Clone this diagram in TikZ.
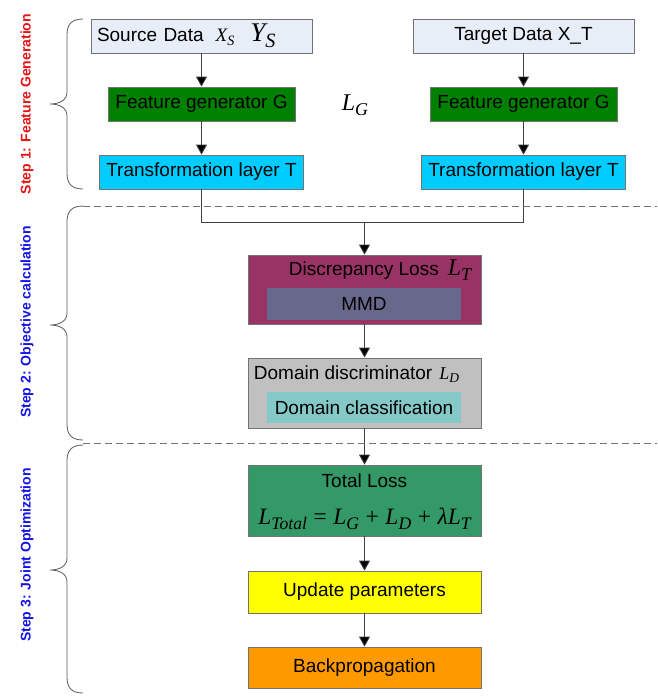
\documentclass[tikz,border=0pt]{standalone}
\usepackage{graphicx}
\usepackage{fontspec}
\setmainfont{Liberation Sans}
\newfontfamily\eqfont{Liberation Serif}
\usetikzlibrary{arrows.meta}

\definecolor{datafill}{RGB}{232,238,247}
\definecolor{gengreen}{RGB}{0,128,0}
\definecolor{transcyan}{RGB}{0,204,255}
\definecolor{discred}{RGB}{153,51,102}
\definecolor{mmdgray}{RGB}{104,104,140}
\definecolor{domgray}{RGB}{192,192,192}
\definecolor{clsteal}{RGB}{132,200,200}
\definecolor{totalgreen}{RGB}{51,153,102}
\definecolor{updyellow}{RGB}{255,255,0}
\definecolor{bporange}{RGB}{255,153,0}
\definecolor{stepred}{RGB}{230,20,20}
\definecolor{stepblue}{RGB}{20,20,230}

\newcommand{\eqv}[2]{{\eqfont\itshape #1\raisebox{-0.45ex}{\scalebox{0.75}{#2}}}}

\begin{document}
\begin{tikzpicture}[x=1pt, y=-1pt, font=\fontsize{19}{22}\selectfont,
    box/.style={draw=black!55, line width=0.8pt, inner sep=0pt},
    inbox/.style={inner sep=0pt, minimum width=194pt},
    link/.style={draw=black!75, line width=0.8pt},
    arrow/.style={link, -{Triangle[length=10pt,width=11pt,fill=black]}},
    steplbl/.style={rotate=90, font=\fontsize{14}{16}\selectfont\bfseries},
    sep/.style={draw=black!55, line width=0.8pt, dash pattern=on 7pt off 4pt},
    brace/.style={draw=black!65, line width=0.8pt}]
    \useasboundingbox (0,0) rectangle (657,696);

    % step 1
    \node [box, fill=datafill, minimum width=221pt, minimum height=34pt,
        text width=209pt, align=left] (src) at (201.5,36)
        {Source Data\hspace{12pt}{\fontsize{19}{19}\selectfont\eqv{X}{S}}\hspace{16pt}{\fontsize{27}{27}\selectfont\eqv{Y}{S}}};
    \node [box, fill=datafill, minimum width=221pt, minimum height=34pt] (tgt) at (523.5,36) {Target Data X\_T};
    \node [box, fill=gengreen, minimum width=187pt, minimum height=34pt] (gens) at (201.5,104) {Feature generator G};
    \node [box, fill=gengreen, minimum width=187pt, minimum height=34pt] (gent) at (523.5,104) {Feature generator G};
    \node [box, fill=transcyan, minimum width=204pt, minimum height=34pt] (trs) at (201.5,172) {Transformation layer T};
    \node [box, fill=transcyan, minimum width=204pt, minimum height=34pt] (trt) at (523.5,172) {Transformation layer T};
    \node (lg) at (355,105) {\fontsize{24}{24}\selectfont\eqv{L}{G}};
    \draw [arrow] (src) -- (gens);
    \draw [arrow] (gens) -- (trs);
    \draw [arrow] (tgt) -- (gent);
    \draw [arrow] (gent) -- (trt);

    % step 2
    \node [box, fill=discred, minimum width=233pt, minimum height=69pt] (disc) at (364.5,289.5) {};
    \node (disclbl) at (380,270) {Discrepancy Loss\hspace{9pt}{\fontsize{24}{24}\selectfont\eqv{L}{T}}};
    \node [inbox, fill=mmdgray, minimum height=32pt] (mmd) at (364,304) {MMD};
    \node [box, fill=domgray, minimum width=233pt, minimum height=70pt] (dom) at (364.5,393) {};
    \node (domlbl) at (356.5,374) {Domain discriminator\hspace{7pt}{\fontsize{18}{18}\selectfont\eqv{L}{D}}};
    \node [inbox, fill=clsteal, minimum height=31pt] (cls) at (364,407.5) {Domain classification};
    \coordinate (join) at (364.5,222);
    \draw [link] (trs.south) |- (join);
    \draw [link] (trt.south) |- (join);
    \draw [arrow] (join) -- (disc);
    \draw [arrow] (disc) -- (dom);

    % step 3
    \node [box, fill=totalgreen, minimum width=233pt, minimum height=71pt] (total) at (364.5,500.5) {};
    \node (totallbl) at (364.5,481) {Total Loss};
    \node (formula) at (364.5,519) {\fontsize{23.5}{24}\selectfont\eqv{L}{Total} {\eqfont=} \eqv{L}{G} {\eqfont+} \eqv{L}{D} {\eqfont+} {\eqfont\itshape λ}\eqv{L}{T}};
    \node [box, fill=updyellow, minimum width=233pt, minimum height=42pt] (upd) at (364.5,592) {Update parameters};
    \node [box, fill=bporange, minimum width=233pt, minimum height=41pt] (bp) at (364.5,667.5) {Backpropagation};
    \draw [arrow] (dom) -- (total);
    \draw [arrow] (total) -- (upd);
    \draw [arrow] (upd) -- (bp);

    % separators and braces
    \draw [sep] (83,206) -- (657,206);
    \draw [sep] (83,443) -- (657,443);
    \draw [brace] (83,19) .. controls (71,19) and (67,25) .. (67,35) -- (67,92)
        .. controls (67,100) and (60,104) .. (50,104) .. controls (60,104) and (67,108) .. (67,116)
        -- (67,173) .. controls (67,183) and (71,189) .. (83,189);
    \draw [brace] (83,206) .. controls (71,206) and (67,212) .. (67,222) -- (67,313)
        .. controls (67,321) and (60,325) .. (50,325) .. controls (60,325) and (67,329) .. (67,337)
        -- (67,424) .. controls (67,434) and (71,440) .. (83,440);
    \draw [brace] (83,445) .. controls (71,445) and (67,451) .. (67,461) -- (67,558)
        .. controls (67,566) and (60,570) .. (50,570) .. controls (60,570) and (67,574) .. (67,582)
        -- (67,677) .. controls (67,687) and (71,693) .. (83,693);
    \node [steplbl, text=stepred] (step1) at (27,104) {Step 1: Feature Generation};
    \node [steplbl, text=stepblue] (step2) at (27,322) {Step 2: Objective calculation};
    \node [steplbl, text=stepblue] (step3) at (27,555) {Step 3: Joint Optimization};
\end{tikzpicture}
\end{document}
